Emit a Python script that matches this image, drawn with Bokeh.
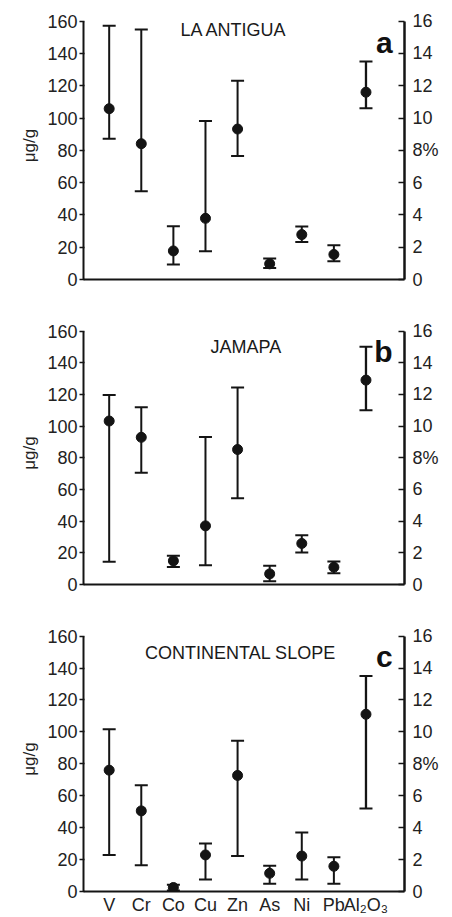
from bokeh.plotting import figure
from bokeh.layouts import column
from bokeh.models import Range1d, LinearAxis, FixedTicker, Label, ColumnDataSource
from bokeh.embed import file_html
from bokeh.resources import INLINE

# ---------------- data ----------------
elements = ["V", "Cr", "Co", "Cu", "Zn", "As", "Ni", "Pb", "Al₂O₃"]
trace_x = [1, 2, 3, 4, 5, 6, 7, 8]
al_x = [9]

# panel a: LA ANTIGUA (µg/g)
a_mean = [105.8, 84.1, 17.7, 37.9, 93.2, 9.7, 27.8, 15.5]
a_upper = [157.1, 154.8, 33.0, 98.1, 123.1, 13.0, 32.8, 21.2]
a_lower = [87.2, 54.6, 9.3, 17.5, 76.5, 7.2, 23.3, 11.3]
# panel b: JAMAPA
b_mean = [103.2, 92.9, 14.9, 37.0, 85.2, 6.7, 25.9, 10.9]
b_upper = [119.6, 111.9, 18.1, 93.1, 124.3, 11.8, 31.1, 14.5]
b_lower = [14.3, 70.6, 11.1, 12.2, 54.5, 2.1, 20.2, 7.1]
# panel c: CONTINENTAL SLOPE
c_mean = [76.0, 50.5, 2.5, 22.9, 72.7, 11.4, 22.2, 15.8]
c_upper = [101.6, 66.5, 4.2, 30.1, 94.5, 16.2, 37.0, 21.4]
c_lower = [22.9, 16.4, 0.6, 7.5, 22.2, 4.8, 7.5, 4.8]
# Al2O3 (%), panels a, b, c
al_mean = [11.6, 12.9, 11.1]
al_upper = [13.5, 15.0, 13.5]
al_lower = [10.6, 11.0, 5.2]

left_ticks = [0, 20, 40, 60, 80, 100, 120, 140, 160]
right_ticks = [0, 2, 4, 6, 8, 10, 12, 14, 16]
titles = ["LA ANTIGUA", "JAMAPA", "CONTINENTAL SLOPE"]
letters = ["a", "b", "c"]

FONT = "Liberation Sans"
INK = "#141414"


def make_panel(idx, mean, upper, lower, height, bt, bb, title_xy, show_x):
    p = figure(width=452, height=height,
               x_range=Range1d(0.2, 10.2), y_range=Range1d(0, 166),
               output_backend="svg", toolbar_location=None,
               min_border_left=83, min_border_right=48,
               min_border_top=bt, min_border_bottom=bb)
    p.extra_y_ranges = {"pct": Range1d(0, 16.6)}
    p.xgrid.visible = False
    p.ygrid.visible = False
    p.outline_line_color = None
    p.background_fill_color = "white"
    p.border_fill_color = "white"

    # left axis
    ya = p.left[0]
    ya.ticker = FixedTicker(ticks=left_ticks)
    ya.bounds = (0, 160)
    ya.axis_line_width = 2
    ya.axis_line_color = INK
    ya.major_tick_out = 4
    ya.major_tick_in = 1
    ya.major_tick_line_width = 1.5
    ya.major_tick_line_color = INK
    ya.minor_tick_line_color = None
    ya.minor_tick_out = 0
    ya.minor_tick_in = 0
    ya.major_label_text_font = FONT
    ya.major_label_text_font_size = "18px"
    ya.major_label_text_color = "#222222"
    ya.major_label_standoff = 2
    ya.axis_label = "μg/g"
    ya.axis_label_text_font = FONT
    ya.axis_label_text_font_size = "17px"
    ya.axis_label_text_font_style = "normal"
    ya.axis_label_text_color = "#222222"
    ya.axis_label_standoff = 5

    # right axis (%)
    ra = LinearAxis(y_range_name="pct", ticker=FixedTicker(ticks=right_ticks))
    ra.bounds = (0, 16)
    ra.axis_line_width = 2.5
    ra.axis_line_color = INK
    ra.major_tick_in = 6
    ra.major_tick_out = 0
    ra.minor_tick_in = 0
    ra.minor_tick_out = 0
    ra.major_tick_line_width = 1.5
    ra.major_tick_line_color = INK
    ra.minor_tick_line_color = None
    ra.major_label_text_font = FONT
    ra.major_label_text_font_size = "18px"
    ra.major_label_text_color = "#222222"
    ra.major_label_standoff = 8
    ra.major_label_overrides = {8: "8%"}
    p.add_layout(ra, "right")

    # x axis
    xa = p.below[0]
    xa.axis_line_width = 2
    xa.axis_line_color = INK
    xa.major_tick_line_color = None
    xa.minor_tick_line_color = None
    xa.major_tick_out = 0
    xa.major_tick_in = 0
    xa.minor_tick_out = 0
    xa.minor_tick_in = 0
    if show_x:
        xa.ticker = FixedTicker(ticks=trace_x + al_x)
        xa.major_label_overrides = {i + 1: e for i, e in enumerate(elements)}
        xa.major_label_text_font = FONT
        xa.major_label_text_font_size = "18px"
        xa.major_label_text_color = "#222222"
        xa.major_label_standoff = 3
    else:
        xa.ticker = FixedTicker(ticks=[])
        xa.major_label_text_font_size = "0px"
        xa.major_label_standoff = 0

    # trace elements
    src = ColumnDataSource(dict(x=trace_x, m=mean, u=upper, l=lower))
    p.segment(x0="x", y0="l", x1="x", y1="u", source=src, line_width=2, line_color=INK)
    p.scatter("x", "u", source=src, marker="dash", size=13, line_width=2, line_color=INK)
    p.scatter("x", "l", source=src, marker="dash", size=13, line_width=2, line_color=INK)
    p.scatter("x", "m", source=src, marker="circle", size=10, fill_color=INK, line_color=INK)

    # Al2O3 on % axis
    asrc = ColumnDataSource(dict(x=al_x, m=[al_mean[idx]], u=[al_upper[idx]], l=[al_lower[idx]]))
    p.segment(x0="x", y0="l", x1="x", y1="u", source=asrc, line_width=2.3, line_color=INK, y_range_name="pct")
    p.scatter("x", "u", source=asrc, marker="dash", size=13, line_width=2, line_color=INK, y_range_name="pct")
    p.scatter("x", "l", source=asrc, marker="dash", size=13, line_width=2, line_color=INK, y_range_name="pct")
    p.scatter("x", "m", source=asrc, marker="circle", size=10, fill_color=INK, line_color=INK, y_range_name="pct")

    tx, ty = title_xy
    p.add_layout(Label(x=tx, y=ty, text=titles[idx], text_font=FONT, text_font_size="18px",
                       text_color="#1a1a1a", text_align="center", text_baseline="alphabetic"))
    p.add_layout(Label(x=9.83, y=147, text=letters[idx], text_font=FONT, text_font_size="30px",
                       text_font_style="bold", text_color="#111111", text_align="right",
                       text_baseline="alphabetic"))
    return p


pa = make_panel(0, a_mean, a_upper, a_lower, 299, 11, 20, (4.89, 154.6), False)
pb = make_panel(1, b_mean, b_upper, b_lower, 305, 22, 20, (5.26, 150.0), False)
pc = make_panel(2, c_mean, c_upper, c_lower, 313, 22, 24, (5.09, 149.3), True)

layout = column(pa, pb, pc, spacing=0)
open("out.html", "w").write(file_html(layout, INLINE))
